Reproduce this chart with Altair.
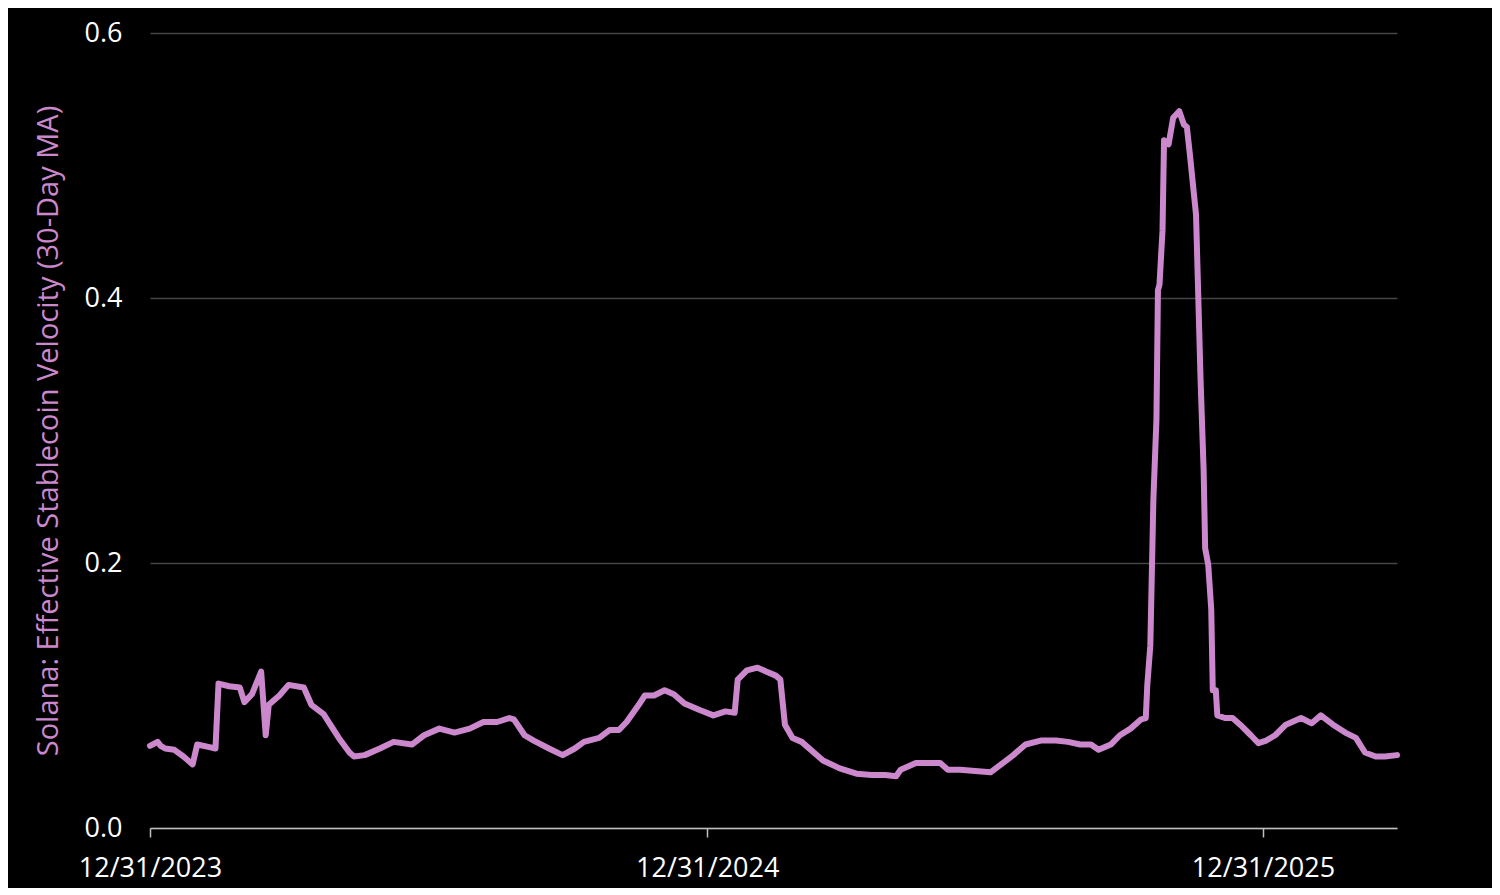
import altair as alt
import pandas as pd

dates = [
    "2023-12-31", "2024-01-05", "2024-01-07", "2024-01-10", "2024-01-16", "2024-01-22", "2024-01-28",
    "2024-01-31", "2024-02-08", "2024-02-12", "2024-02-14", "2024-02-21", "2024-02-28", "2024-03-02",
    "2024-03-07", "2024-03-13", "2024-03-16", "2024-03-18", "2024-03-25", "2024-03-31", "2024-04-10",
    "2024-04-15", "2024-04-23", "2024-05-03", "2024-05-10", "2024-05-13", "2024-05-20", "2024-05-30",
    "2024-06-08", "2024-06-20", "2024-06-28", "2024-07-08", "2024-07-18", "2024-07-28", "2024-08-06",
    "2024-08-15", "2024-08-23", "2024-08-26", "2024-09-02", "2024-09-08", "2024-09-18", "2024-09-27",
    "2024-10-05", "2024-10-11", "2024-10-21", "2024-10-28", "2024-11-03", "2024-11-08", "2024-11-16",
    "2024-11-20", "2024-11-26", "2024-12-03", "2024-12-09", "2024-12-16", "2024-12-26",
    "2025-01-04", "2025-01-12", "2025-01-18", "2025-01-20", "2025-01-26", "2025-02-02", "2025-02-08",
    "2025-02-14", "2025-02-17", "2025-02-20", "2025-02-25", "2025-03-03", "2025-03-11", "2025-03-17",
    "2025-03-28", "2025-04-08", "2025-04-18", "2025-04-27", "2025-05-04", "2025-05-07", "2025-05-17",
    "2025-05-27", "2025-06-02", "2025-06-07", "2025-06-15", "2025-06-25", "2025-07-05", "2025-07-12",
    "2025-07-20", "2025-07-28", "2025-08-07", "2025-08-17", "2025-08-25", "2025-09-02", "2025-09-09",
    "2025-09-14", "2025-09-22", "2025-09-28", "2025-10-05", "2025-10-12", "2025-10-15", "2025-10-16",
    "2025-10-18", "2025-10-20", "2025-10-22", "2025-10-23", "2025-10-24", "2025-10-26", "2025-10-27",
    "2025-10-30", "2025-11-02", "2025-11-06", "2025-11-09", "2025-11-11", "2025-11-13", "2025-11-17",
    "2025-11-20", "2025-11-22", "2025-11-23", "2025-11-25", "2025-11-27", "2025-11-28", "2025-11-30",
    "2025-12-01", "2025-12-06", "2025-12-11", "2025-12-16", "2025-12-23", "2025-12-28",
    "2026-01-02", "2026-01-08", "2026-01-15", "2026-01-25", "2026-02-01", "2026-02-07", "2026-02-15",
    "2026-02-23", "2026-03-02", "2026-03-08", "2026-03-15", "2026-03-21", "2026-03-29",
]

velocity = [
    0.062, 0.065, 0.062, 0.060, 0.059, 0.054, 0.048,
    0.063, 0.061, 0.060, 0.109, 0.107, 0.106, 0.095,
    0.101, 0.118, 0.070, 0.093, 0.100, 0.108, 0.106,
    0.093, 0.086, 0.068, 0.057, 0.054, 0.055, 0.060,
    0.065, 0.063, 0.070, 0.075, 0.072, 0.075, 0.080,
    0.080, 0.083, 0.082, 0.070, 0.066, 0.060, 0.055,
    0.060, 0.065, 0.068, 0.074, 0.074, 0.080, 0.093,
    0.100, 0.100, 0.104, 0.101, 0.094, 0.089,
    0.085, 0.088, 0.087, 0.112, 0.119, 0.121, 0.118,
    0.115, 0.112, 0.078, 0.068, 0.065, 0.057, 0.051,
    0.045, 0.041, 0.040, 0.040, 0.039, 0.044, 0.049,
    0.049, 0.049, 0.044, 0.044, 0.043, 0.042, 0.048,
    0.055, 0.063, 0.066, 0.066, 0.065, 0.063, 0.063,
    0.059, 0.063, 0.070, 0.075, 0.082, 0.083, 0.108,
    0.138, 0.248, 0.308, 0.406, 0.410, 0.451, 0.519,
    0.516, 0.536, 0.541, 0.531, 0.529, 0.508, 0.463,
    0.338, 0.270, 0.211, 0.199, 0.165, 0.104, 0.104,
    0.085, 0.083, 0.083, 0.078, 0.070, 0.064,
    0.066, 0.070, 0.078, 0.083, 0.079, 0.085, 0.078,
    0.072, 0.068, 0.057, 0.054, 0.054, 0.055,
]

y_ticks = [0.0, 0.2, 0.4, 0.6]

df = pd.DataFrame({"date": dates, "velocity": velocity})

FONT = "Open Sans"
LINE_COLOR = "#CC88CC"

chart = (
    alt.Chart(df)
    .mark_line(color=LINE_COLOR, strokeWidth=6, strokeJoin="round", strokeCap="round")
    .encode(
        x=alt.X(
            "date:T",
            scale=alt.Scale(
                type="utc",
                domain=[
                    alt.DateTime(year=2023, month=12, date=31, utc=True),
                    alt.DateTime(year=2026, month=3, date=29, utc=True),
                ],
            ),
            axis=alt.Axis(
                values=[
                    alt.DateTime(year=2023, month=12, date=31, utc=True),
                    alt.DateTime(year=2024, month=12, date=31, utc=True),
                    alt.DateTime(year=2025, month=12, date=31, utc=True),
                ],
                labelExpr="utcFormat(datum.value, '%m/%d/%Y')",
                title=None,
                grid=False,
                domainColor="#BFBFBF",
                domainWidth=1.5,
                tickColor="#BFBFBF",
                tickSize=9,
                tickWidth=1.5,
                labelColor="white",
                labelFont=FONT,
                labelFontSize=27,
                labelPadding=18,
                labelOverlap=False,
                labelFlush=False,
                labelBound=False,
            ),
        ),
        y=alt.Y(
            "velocity:Q",
            scale=alt.Scale(domain=[0, 0.6], nice=False),
            axis=alt.Axis(
                values=y_ticks,
                format=".1f",
                title="Solana: Effective Stablecoin Velocity (30-Day MA)",
                titleColor=LINE_COLOR,
                titleFont=FONT,
                titleFontSize=29,
                titleFontWeight="normal",
                titlePadding=21,
                grid=True,
                gridColor="#444444",
                gridWidth=1.5,
                domain=False,
                ticks=False,
                labelColor="white",
                labelFont=FONT,
                labelFontSize=27,
                labelPadding=28,
            ),
        ),
    )
    .properties(
        width=1247,
        height=795,
        background="black",
        padding={"left": 142, "top": 25, "right": 95, "bottom": 60},
        autosize=alt.AutoSizeParams(type="none"),
    )
    .configure_view(stroke=None)
)

chart.save("out.html", embed_options={"renderer": "svg", "actions": False})
